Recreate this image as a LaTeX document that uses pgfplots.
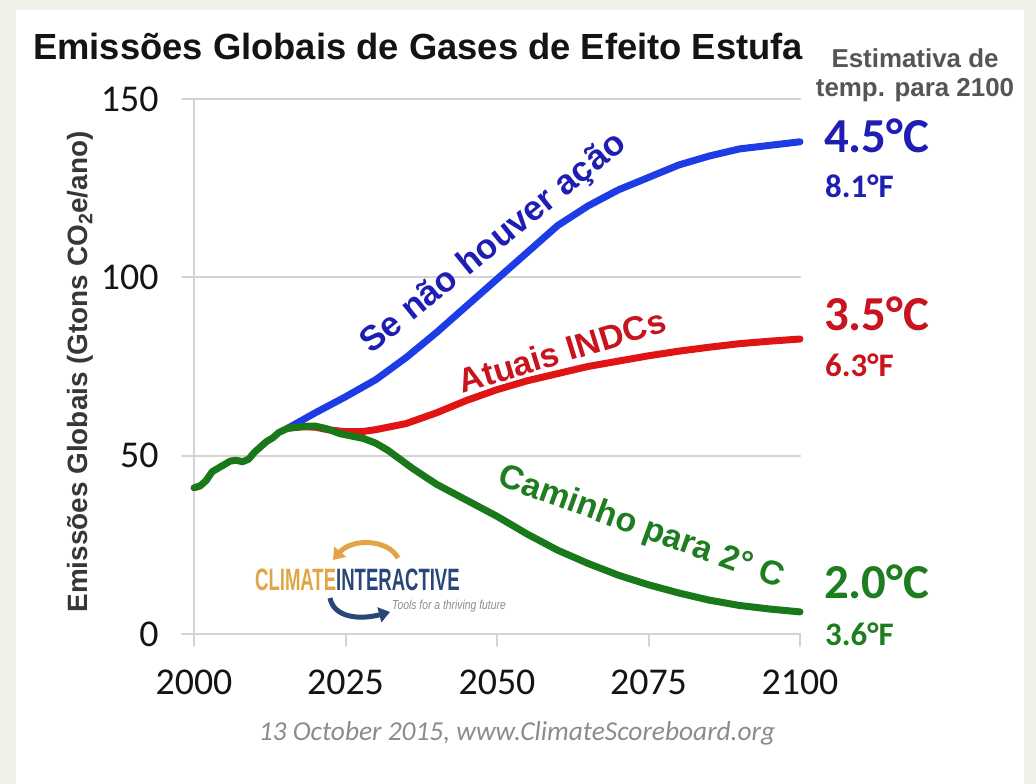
\documentclass[border=0pt]{standalone}
\usepackage{fontspec}
\setmainfont{Liberation Sans}
\newfontfamily\carlito{Carlito}
\usepackage{graphicx}
\usepackage{pgfplots}
\pgfplotsset{compat=1.18}
\usetikzlibrary{arrows.meta}
\definecolor{bgout}{RGB}{240,240,232}
\definecolor{gridc}{RGB}{212,212,212}
\definecolor{bline}{RGB}{30,60,230}
\definecolor{rline}{RGB}{225,20,20}
\definecolor{gline}{RGB}{25,120,25}
\definecolor{btext}{RGB}{30,30,180}
\definecolor{rtext}{RGB}{200,20,30}
\definecolor{gtext}{RGB}{30,125,30}
\definecolor{titlec}{RGB}{20,20,20}
\definecolor{subc}{RGB}{85,85,85}
\definecolor{ylabc}{RGB}{55,55,55}
\definecolor{capc}{RGB}{140,140,140}
\definecolor{logoo}{RGB}{225,165,70}
\definecolor{logob}{RGB}{40,70,120}
\begin{document}
\begin{tikzpicture}
\useasboundingbox (0,0) rectangle (1036bp,784bp);
\fill[bgout] (0,0) rectangle (1036bp,784bp);
\fill[white] (16bp,0) rectangle (1024bp,774bp);
\begin{axis}[
  at={(194bp,150bp)}, anchor=south west,
  scale only axis, width=606bp, height=535bp,
  xmin=2000, xmax=2100, ymin=0, ymax=150,
  axis x line=bottom, axis y line=left,
  axis line style={-, draw=gridc, line width=2bp},
  tick align=outside, major tick length=12bp,
  tick style={draw=gridc, line width=2bp},
  ymajorgrids, grid style={draw=gridc, line width=2bp},
  xtick={2000,2025,2050,2075,2100}, ytick={0,50,100,150},
  /pgf/number format/assume math mode=true,
  /pgf/number format/1000 sep={},
  ticklabel style={font=\carlito\fontsize{38}{42}\selectfont, text=titlec},
  xticklabel style={yshift=-20bp},
  yticklabel style={xshift=-20bp},
  clip=false,
  line cap=round, line join=round,
]
\addplot[bline, line width=7bp] coordinates {
(2015.5,57.7) (2020,62) (2025,66.5) (2030,71.3) (2035,77.5) (2040,84.5)
(2045,92) (2050,99.5) (2055,107) (2060,114.5) (2065,120) (2070,124.5)
(2075,128) (2080,131.5) (2085,134) (2090,136) (2095,137) (2100,138)};
\addplot[rline, line width=7bp] coordinates {
(2015.5,57.7) (2018,58.1) (2020,58) (2022,57.3) (2025,56.7) (2028,56.8)
(2030,57.3) (2035,59) (2040,62) (2045,65.5) (2050,68.5) (2055,71)
(2060,73) (2065,75) (2070,76.5) (2075,78) (2080,79.3) (2085,80.4)
(2090,81.4) (2095,82.1) (2100,82.7)};
\addplot[gline, line width=7bp] coordinates {
(2000,41) (2001,41.5) (2002,43) (2003,45.5) (2004,46.5) (2005,47.5)
(2006,48.5) (2007,48.7) (2008,48.3) (2009,49) (2010,51) (2011,52.5)
(2012,54) (2013,55) (2014,56.5) (2015.5,57.7) (2017,58) (2019,58.3)
(2020,58.3) (2022,57.5) (2024,56.2) (2026,55.5) (2028,54.8) (2030,53.5)
(2032,51.5) (2034,49) (2036,46.5) (2040,42) (2045,37.5) (2050,33)
(2055,28) (2060,23.5) (2065,19.8) (2070,16.5) (2075,13.8) (2080,11.5)
(2085,9.5) (2090,8) (2095,7) (2100,6.2)};
\end{axis}
% title
\node[anchor=base west, inner sep=0, text=titlec, font=\bfseries\fontsize{36.5}{40}\selectfont] at (33bp,724bp) {Emissões Globais de Gases de Efeito Estufa};
\node[anchor=base, inner sep=0, text=subc, font=\bfseries\fontsize{26}{30}\selectfont] at (915bp,716bp) {Estimativa de};
\node[anchor=base, inner sep=0, text=subc, font=\bfseries\fontsize{26}{30}\selectfont] at (915bp,687bp) {temp. para 2100};
% y label
\node[rotate=90, inner sep=0, text=ylabc, font=\bfseries\fontsize{28}{32}\selectfont] at (80bp,412bp) {Emissões Globais (Gtons CO\textsubscript{2}e/ano)};
% line labels
\node[rotate=39, inner sep=0, text=btext, font=\bfseries\fontsize{35}{38}\selectfont] at (494bp,540bp) {Se não houver ação};
\node[rotate=17, inner sep=0, text=rtext, font=\bfseries\fontsize{34}{36}\selectfont] at (562bp,433bp) {Atuais INDCs};
\node[rotate=-20, inner sep=0, text=gtext, font=\bfseries\fontsize{34}{36}\selectfont] at (641bp,256bp) {Caminho para 2° C};
% right labels
\node[anchor=base west, inner sep=0, text=btext, font=\carlito\bfseries\fontsize{49}{52}\selectfont] at (824bp,631bp) {4.5°C};
\node[anchor=base west, inner sep=0, text=btext, font=\carlito\bfseries\fontsize{33}{36}\selectfont] at (825bp,586bp) {8.1°F};
\node[anchor=base west, inner sep=0, text=rtext, font=\carlito\bfseries\fontsize{49}{52}\selectfont] at (824bp,453bp) {3.5°C};
\node[anchor=base west, inner sep=0, text=rtext, font=\carlito\bfseries\fontsize{33}{36}\selectfont] at (825bp,407bp) {6.3°F};
\node[anchor=base west, inner sep=0, text=gtext, font=\carlito\bfseries\fontsize{49}{52}\selectfont] at (824bp,185bp) {2.0°C};
\node[anchor=base west, inner sep=0, text=gtext, font=\carlito\bfseries\fontsize{33}{36}\selectfont] at (825bp,138bp) {3.6°F};
% logo
\draw[logoo, line width=5bp, -{Triangle[length=11bp,width=15bp]}] (398bp,226bp) .. controls (388bp,245bp) and (352bp,246bp) .. (333bp,224bp);
\draw[logob, line width=5bp, -{Triangle[length=11bp,width=15bp]}] (330bp,186bp) .. controls (334bp,166bp) and (360bp,164bp) .. (390bp,172bp);
\node[anchor=base west, inner sep=0, font=\bfseries\fontsize{31}{34}\selectfont] at (255bp,193bp) {\scalebox{0.6}[1]{\textcolor{logoo}{CLIMATE}\textcolor{logob}{INTERACTIVE}}};
\node[anchor=base west, inner sep=0, text=capc, font=\itshape\fontsize{13}{15}\selectfont] at (392bp,174bp) {\scalebox{0.8}[1]{Tools for a thriving future}};
% caption
\node[anchor=base, inner sep=0, text=capc, font=\carlito\itshape\fontsize{27.5}{30}\selectfont] at (517bp,43bp) {13 October 2015, www.ClimateScoreboard.org};
\end{tikzpicture}
\end{document}
